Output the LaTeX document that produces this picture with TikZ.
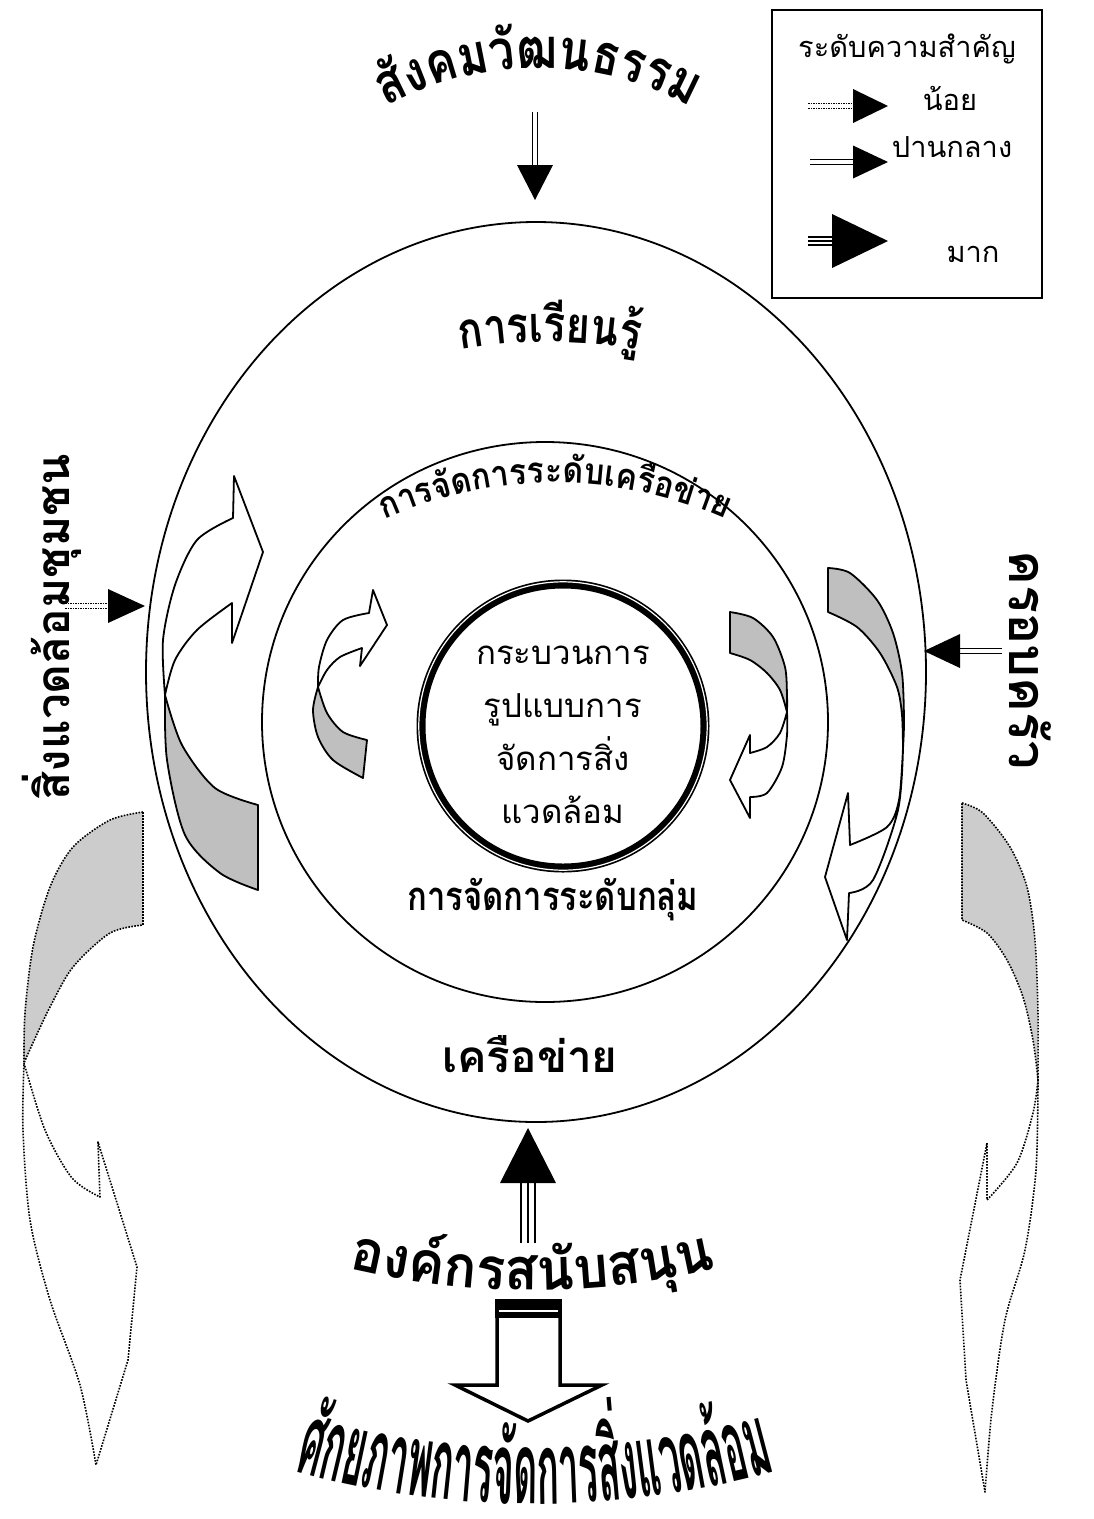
\documentclass[tikz,border=0pt]{standalone}
\usepackage{fontspec}
\usepackage{graphicx}
\newfontfamily\thai[Script=Thai]{Loma}
\usetikzlibrary{calc}
\newcommand\thr[1]{\thai\fontsize{#1}{#1}\selectfont}
\newcommand\thb[1]{\thai\bfseries\fontsize{#1}{#1}\selectfont}
\newdimen\actotd
% measure before the picture: #1 name, #2 font, #3 clusters, #4 hscale
\newcommand\MeasureArc[4]{%
  \global\actotd=0pt
  \foreach \cl [count=\ci] in {#3}{%
    \setbox0=\hbox{#2\cl}%
    \expandafter\xdef\csname acw@#1@\ci\endcsname{\the\wd0}%
    \global\advance\actotd by #4\wd0
  }%
  \expandafter\xdef\csname actot@#1\endcsname{\the\actotd}%
}
% #1 cx, #2 cy, #3 radius, #4 font, #5 clusters, #6 dir (1 arch, -1 smile), #7 hscale, #8 name
\newcommand\ArcText[8]{%
  \gdef\acpos{0}%
  \foreach \cl [count=\ci] in {#5}{%
    \edef\acwv{\csname acw@#8@\ci\endcsname}\edef\actv{\csname actot@#8\endcsname}%
    \pgfmathsetmacro\acmid{\acpos+#7*\acwv/2-\actv/2}%
    \pgfmathsetmacro\acang{\acmid/(#3)*180/pi}%
    \node[anchor=base,inner sep=0pt,rotate={-(#6)*\acang}] (#8-\ci) at ({#1+(#3)*sin(\acang)},{#2-(#6)*(#3)*cos(\acang)}) {\scalebox{#7}[1]{#4\cl}};%
    \pgfmathsetmacro\acnew{\acpos+#7*\acwv}%
    \global\let\acpos\acnew
  }%
}
\newcommand\ahead[3]{\fill ($(#1)!#3!90:(#2)$) -- (#2) -- ($(#1)!#3!-90:(#2)$) -- cycle;}
\tikzset{
  ring/.style={line width=1.8pt},
  band/.style={draw, line width=1.8pt, line join=round, fill=white},
  shadeband/.style={draw, line width=1.8pt, line join=round, fill=black!25},
  dband/.style={draw, line width=1.6pt, dash pattern=on 1.6pt off 1.4pt, line join=round, fill=white},
  dshade/.style={draw, line width=1.6pt, dash pattern=on 1.6pt off 1.4pt, line join=round, fill=black!20},
  medshaft/.style={double, double distance=4pt, line width=1.3pt},
  weakshaft/.style={double, double distance=3.5pt, line width=1.3pt, dash pattern=on 1.5pt off 1pt},
  strongline/.style={line width=2pt},
  lbl/.style={inner sep=0pt, anchor=base},
}
\begin{document}
\MeasureArc{soc}{\thb{56}}{สั,ง,ค,ม,วั,ฒ,น,ธ,ร,ร,ม}{0.82}%
\MeasureArc{learn}{\thb{50}}{ก,า,ร,เ,รี,ย,น,รู้}{0.82}%
\MeasureArc{netmg}{\thb{36}}{ก,า,ร,จั,ด,ก,า,ร,ร,ะ,ดั,บ,เ,ค,รื,อ,ข่,า,ย}{0.89}%
\MeasureArc{sup}{\thb{58}}{อ,ง,ค์,ก,ร,ส,นั,บ,ส,นุ,น}{0.94}%
\MeasureArc{pot}{\thb{100}}{ศั,ก,ย,ภ,า,พ,ก,า,ร,จั,ด,ก,า,ร,สิ่,ง,แ,ว,ด,ล้,อ,ม}{0.37}%
\begin{tikzpicture}[x=1pt,y=-1pt]
\useasboundingbox (0,0) rectangle (1094,1519);
\fill[white] (0,0) rectangle (1094,1519);

% rings
\draw[ring] (536,672) ellipse [x radius=390, y radius=450];
\draw[ring] (545,722) ellipse [x radius=283, y radius=280];
\draw[line width=9pt] (563,726) circle [radius=142];
\draw[white, line width=1.2pt] (563,726) circle [radius=144.2];

% left outer curved arrow
\path[shadeband] plot[smooth] coordinates {(165,695) (167,760) (185,835) (220,873) (258,890)} -- (258,805) -- plot[smooth] coordinates {(258,805) (215,788) (182,745) (165,695)} -- cycle;
\path[band] plot[smooth] coordinates {(165,695) (163,640) (175,585) (197,540) (233,518)} -- (234,476) -- (263,552) -- (232,643) -- (232,603) -- plot[smooth] coordinates {(232,603) (197,630) (175,660) (165,695)} -- cycle;

% left inner curved arrow
\path[shadeband] plot[smooth] coordinates {(318,687) (313,710) (318,737) (333,760) (363,778)} -- (367,740) -- plot[smooth] coordinates {(367,740) (343,732) (327,713) (318,687)} -- cycle;
\path[band] plot[smooth] coordinates {(318,687) (319,667) (327,640) (343,620) (369,613)} -- (373,590) -- (387,625) -- (360,666) -- (362,648) -- plot[smooth] coordinates {(362,648) (340,657) (327,670) (318,687)} -- cycle;

% right inner curved arrow
\path[shadeband] plot[smooth] coordinates {(730,612) (753,618) (773,637) (785,667) (787,695) (787,712)} -- plot[smooth] coordinates {(787,712) (780,690) (767,673) (750,660) (730,653)} -- cycle;
\path[band] plot[smooth] coordinates {(787,712) (780,733) (767,747) (750,753)} -- (750,735) -- (730,780) -- (750,818) -- (750,797) -- plot[smooth] coordinates {(750,797) (767,793) (782,767) (787,735) (787,712)} -- cycle;

% right outer curved arrow
\path[shadeband] plot[smooth] coordinates {(828,568) (850,573) (877,600) (893,633) (902,673) (904,720) (903,748)} -- plot[smooth] coordinates {(903,748) (902,715) (897,687) (880,653) (857,627) (828,612)} -- cycle;
\path[band] plot[smooth] coordinates {(903,748) (899,800) (887,827) (850,845)} -- (848,793) -- (825,877) -- (847,940) -- (849,893) -- plot[smooth] coordinates {(849,893) (873,880) (898,810) (903,748)} -- cycle;

% left dotted big arrow
\path[dshade] plot[smooth] coordinates {(143,812) (110,820) (73,847) (50,887) (33,947) (25,1013) (24,1063)} -- plot[smooth] coordinates {(24,1063) (32,1045) (50,1007) (73,967) (110,933) (143,925)} -- cycle;
\path[dband] plot[smooth] coordinates {(24,1063) (45,1130) (72,1178) (100,1197)} -- (98,1142) -- (137,1267) -- (128,1360) -- (96,1465) -- plot[smooth] coordinates {(96,1465) (80,1385) (50,1300) (30,1220) (23,1130) (24,1063)} -- cycle;

% right dotted big arrow
\path[dshade] plot[smooth] coordinates {(962,803) (983,813) (1010,847) (1027,887) (1035,940) (1038,1013) (1038,1080)} -- plot[smooth] coordinates {(1038,1080) (1033,1040) (1023,997) (1007,960) (987,933) (962,920)} -- cycle;
\path[dband] plot[smooth] coordinates {(1038,1080) (1033,1113) (1017,1163) (987,1200)} -- (987,1143) -- (960,1280) -- (966,1380) -- (985,1492) -- plot[smooth] coordinates {(985,1492) (992,1410) (1005,1320) (1025,1250) (1036,1170) (1038,1080)} -- cycle;

% ring labels
\ArcText{538}{388}{320}{\thb{56}}{สั,ง,ค,ม,วั,ฒ,น,ธ,ร,ร,ม}{1}{0.82}{soc}
\ArcText{550}{862}{520}{\thb{50}}{ก,า,ร,เ,รี,ย,น,รู้}{1}{0.82}{learn}
\ArcText{555}{903}{420}{\thb{36}}{ก,า,ร,จั,ด,ก,า,ร,ร,ะ,ดั,บ,เ,ค,รื,อ,ข่,า,ย}{1}{0.89}{netmg}
\node[lbl, font={\thb{40}}] (grp) at (553,910) {\scalebox{0.82}[1]{การจัดการระดับกลุ่ม}};
\node[lbl, font={\thb{44}}] (net) at (530,1072) {เครือข่าย};
\ArcText{532}{490}{800}{\thb{58}}{อ,ง,ค์,ก,ร,ส,นั,บ,ส,นุ,น}{-1}{0.94}{sup}
\ArcText{535}{604}{900}{\thb{100}}{ศั,ก,ย,ภ,า,พ,ก,า,ร,จั,ด,ก,า,ร,สิ่,ง,แ,ว,ด,ล้,อ,ม}{-1}{0.37}{pot}

% centre
\node[lbl, font={\thr{33}}] (c1) at (563,664) {กระบวนการ};
\node[lbl, font={\thr{33}}] (c2) at (563,717) {รูปแบบการ};
\node[lbl, font={\thr{33}}] (c3) at (563,770) {จัดการสิ่ง};
\node[lbl, font={\thr{33}}] (c4) at (563,823) {แวดล้อม};

% side labels
\node[font={\thb{46}}, rotate=90, inner sep=0pt] (env) at (52,627) {สิ่งแวดล้อมชุมชน};
\node[font={\thb{52}}, rotate=-90, inner sep=0pt] (fam) at (1030,660) {ครอบครัว};

% straight arrows
\coordinate (ta) at (535,112); \coordinate (tb) at (535,165); \coordinate (tt) at (535,200);
\draw[medshaft] (ta) -- (tb); \ahead{tb}{tt}{18pt}
\coordinate (la) at (65,606); \coordinate (lb) at (108,606); \coordinate (lt) at (145,606);
\draw[weakshaft] (la) -- (lb); \ahead{lb}{lt}{17pt}
\coordinate (ra) at (1002,651); \coordinate (rb) at (960,651); \coordinate (rt) at (924,651);
\draw[medshaft] (ra) -- (rb); \ahead{rb}{rt}{17pt}
\coordinate (ba) at (528,1243); \coordinate (bb) at (528,1183); \coordinate (bt) at (528,1128);
\foreach \d in {-7,0,7} \draw[strongline] ([xshift=\d pt]ba) -- ([xshift=\d pt]bb);
\ahead{bb}{bt}{28pt}

% hollow arrow
\draw[line width=3.5pt, line join=miter] (497,1385) -- (497,1301) -- (560,1301) -- (560,1385) -- (602,1385) -- (528,1421) -- (455,1385) -- cycle;
\fill (495,1299) rectangle (562,1318);
\draw[white, line width=1.5pt] (499,1311) -- (558,1311);

% legend
\draw[line width=1.5pt] (772,10) rectangle (1042,298);
\node[lbl, font={\thr{29}}] (lgt) at (907,57) {ระดับความสำคัญ};
\node[lbl, font={\thr{29}}] (lg1) at (950,110) {น้อย};
\node[lbl, font={\thr{29}}] (lg2) at (952,157) {ปานกลาง};
\node[lbl, font={\thr{29}}] (lg3) at (973,262) {มาก};
\coordinate (l1a) at (808,106); \coordinate (l1b) at (853,106); \coordinate (l1t) at (888,106);
\draw[weakshaft] (l1a) -- (l1b); \ahead{l1b}{l1t}{17pt}
\coordinate (l2a) at (810,162); \coordinate (l2b) at (853,162); \coordinate (l2t) at (888,162);
\draw[medshaft] (l2a) -- (l2b); \ahead{l2b}{l2t}{16.5pt}
\coordinate (l3a) at (808,241); \coordinate (l3b) at (832,241); \coordinate (l3t) at (888,241);
\foreach \d in {-4,0,4} \draw[line width=1.6pt] ([yshift=\d pt]l3a) -- ([yshift=\d pt]l3b);
\ahead{l3b}{l3t}{27pt}
\end{tikzpicture}
\end{document}
